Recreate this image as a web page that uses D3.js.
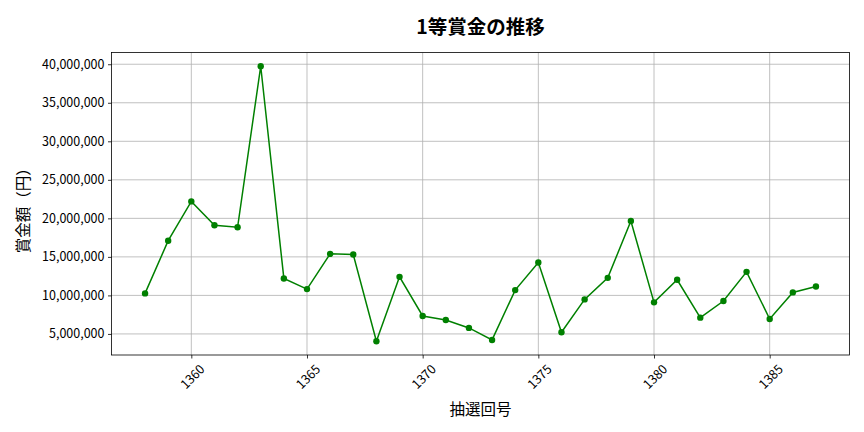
<!DOCTYPE html>
<html lang="ja">
<head>
    <meta charset="UTF-8">
    <title>1等賞金の推移</title>
    <script src="https://d3js.org/d3.v7.min.js"></script>
    <style>
        body { margin: 0; background: #fff; }
        text { font-family: "Noto Sans CJK JP", "Noto Sans", sans-serif; fill: #000; }
    </style>
</head>
<body>
<svg width="864" height="432" viewBox="0 0 864 432">
</svg>
<script>
    // 抽選回号 and 1等賞金 (円)
    let draws = d3.range(1358, 1388)
    let prizes = [
        10260000, 17100000, 22200000, 19100000, 18840000, 39740000, 12200000, 10820000,
        15390000, 15300000, 4050000, 12410000, 7330000, 6810000, 5780000, 4220000,
        10690000, 14270000, 5220000, 9480000, 12280000, 19660000, 9100000, 12030000,
        7110000, 9270000, 13060000, 6940000, 10390000, 11160000
    ]
    let xTicks = [1360, 1365, 1370, 1375, 1380, 1385]
    let yTicks = [5e6, 10e6, 15e6, 20e6, 25e6, 30e6, 35e6, 40e6]
    let title = "1等賞金の推移"
    let xTitle = "抽選回号"
    let yTitle = "賞金額（円）"

    let data = draws.map((d, i) => ({draw: d, prize: prizes[i]}))

    let svg = d3.select('svg')
    let margin = {left: 111.5, right: 849.5, top: 52.5, bottom: 355}

    // matplotlib style 5% padding around the data
    let xr = d3.extent(draws), xp = (xr[1] - xr[0]) * 0.05
    let yr = d3.extent(prizes), yp = (yr[1] - yr[0]) * 0.05

    let x = d3.scaleLinear()
        .domain([xr[0] - xp, xr[1] + xp])
        .range([margin.left, margin.right])
    let y = d3.scaleLinear()
        .domain([yr[0] - yp, yr[1] + yp])
        .range([margin.bottom, margin.top])

    // grid
    let grid = svg.append("g")
    grid.selectAll(".gx")
        .data(xTicks)
        .enter()
        .append("line")
        .attr("x1", d => x(d)).attr("x2", d => x(d))
        .attr("y1", margin.top).attr("y2", margin.bottom)
        .attr("stroke", "#b0b0b0").attr("stroke-width", 0.8)
    grid.selectAll(".gy")
        .data(yTicks)
        .enter()
        .append("line")
        .attr("x1", margin.left).attr("x2", margin.right)
        .attr("y1", d => y(d)).attr("y2", d => y(d))
        .attr("stroke", "#b0b0b0").attr("stroke-width", 0.8)

    // axes
    let xAxis = svg.append("g")
        .attr("transform", `translate(0,${margin.bottom})`)
        .call(d3.axisBottom(x).tickValues(xTicks).tickSize(3.5).tickPadding(3.5).tickFormat(d3.format("d")))
    xAxis.select(".domain").remove()
    xAxis.selectAll("line").attr("stroke", "#000").attr("stroke-width", 0.8)
    xAxis.selectAll("text")
        .attr("font-size", 12.5)
        .attr("text-anchor", "middle")
        .attr("dominant-baseline", "central")
        .attr("y", null).attr("dy", null)
        .attr("transform", "translate(0,21) rotate(-45)")

    let yAxis = svg.append("g")
        .attr("transform", `translate(${margin.left},0)`)
        .call(d3.axisLeft(y).tickValues(yTicks).tickSize(3.5).tickPadding(3.5).tickFormat(d3.format(",")))
    yAxis.select(".domain").remove()
    yAxis.selectAll("line").attr("stroke", "#000").attr("stroke-width", 0.8)
    yAxis.selectAll("text").attr("font-size", 12.5)

    svg.append("rect")
        .attr("x", margin.left).attr("y", margin.top)
        .attr("width", margin.right - margin.left)
        .attr("height", margin.bottom - margin.top)
        .attr("fill", "none").attr("stroke", "#000").attr("stroke-width", 0.8)

    // line + markers
    let line = d3.line().x(d => x(d.draw)).y(d => y(d.prize))
    svg.append("path")
        .datum(data)
        .attr("d", line)
        .attr("fill", "none")
        .attr("stroke", "green")
        .attr("stroke-width", 1.5)
    svg.append("g")
        .selectAll("circle")
        .data(data)
        .enter()
        .append("circle")
        .attr("cx", d => x(d.draw))
        .attr("cy", d => y(d.prize))
        .attr("r", 3.2)
        .attr("fill", "green")

    // titles
    let cx = (margin.left + margin.right) / 2
    svg.append("text")
        .attr("x", cx).attr("y", 25)
        .attr("text-anchor", "middle").attr("dominant-baseline", "central")
        .attr("font-size", 19.5).attr("font-weight", "bold")
        .text(title)
    svg.append("text")
        .attr("x", cx).attr("y", 408)
        .attr("text-anchor", "middle").attr("dominant-baseline", "central")
        .attr("font-size", 15.5)
        .text(xTitle)
    svg.append("text")
        .attr("transform", `translate(22,${(margin.top + margin.bottom) / 2 + 3}) rotate(-90)`)
        .attr("text-anchor", "middle").attr("dominant-baseline", "central")
        .attr("font-size", 15.5)
        .text(yTitle)
</script>
</body>
</html>
